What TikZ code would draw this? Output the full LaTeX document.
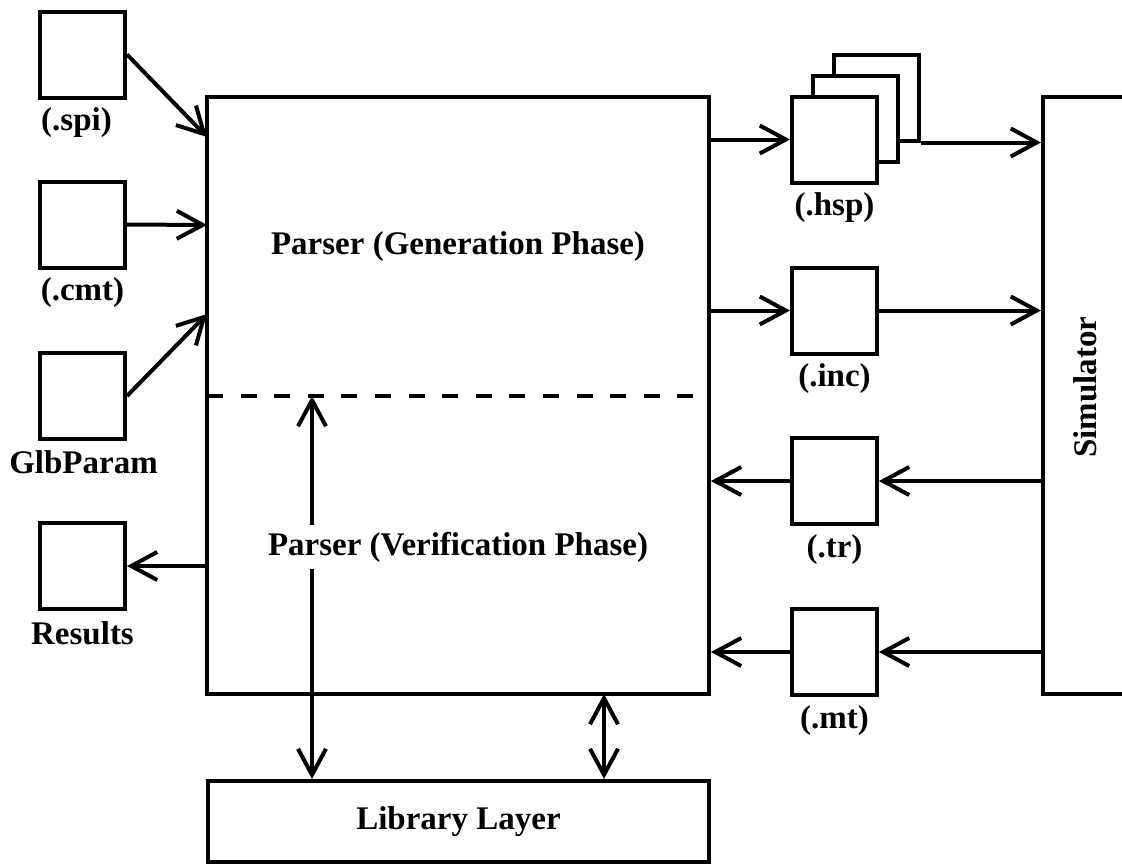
\documentclass[tikz,border=0pt]{standalone}
\usepackage{fontspec}
\setmainfont{Liberation Serif}
\usetikzlibrary{arrows.meta}
\begin{document}
\begin{tikzpicture}[x=1pt,y=-1pt,
  line width=4pt,
  every node/.style={font=\fontsize{33}{40}\selectfont\bfseries, inner sep=0pt},
  filebox/.style={draw, fill=white, minimum width=85pt, minimum height=86pt},
  block/.style={draw, minimum width=502pt},
  lbl/.style={anchor=base},
  conn/.style={-{Straight Barb[length=26pt,width=28pt]}},
  dconn/.style={{Straight Barb[length=26pt,width=28pt]}-{Straight Barb[length=26pt,width=28pt]}}]

\useasboundingbox (0,0) rectangle (1122,865);
\clip (0,0) rectangle (1122,865);

% central parser block and library layer
\node[block, minimum height=597pt] (parser) at (458,395.5) {};
\node[block, minimum width=501pt, minimum height=81pt] (lib) at (458.5,821.5) {Library Layer};

% simulator block (runs off the right edge)
\node[draw, minimum width=160pt, minimum height=597pt] (sim) at (1123,395.5) {};
\node[rotate=90] (simlbl) at (1085,387) {Simulator};

% input files on the left
\node[filebox] (spi) at (82.5,54.5) {};
\node[filebox] (cmt) at (82.5,224.5) {};
\node[filebox] (glb) at (82.5,396) {};
\node[filebox] (res) at (82.5,566) {};
\node[lbl] at ([shift={(-6,31)}]spi.south) {(.spi)};
\node[lbl] at ([shift={(0,31)}]cmt.south) {(.cmt)};
\node[lbl] at ([shift={(1,32)}]glb.south) {GlbParam};
\node[lbl] at ([shift={(0,33)}]res.south) {Results};

% generated and traced files on the right
\node[filebox] (hsp3) at (876.5,97.5) {};
\node[filebox] (hsp2) at (855.5,118.5) {};
\node[filebox] (hsp1) at (834.5,139.5) {};
\node[filebox] (inc) at (834.5,310.5) {};
\node[filebox] (tr) at (834.5,481) {};
\node[filebox] (mt) at (834.5,652) {};
\node[lbl] at ([shift={(0,31)}]hsp1.south) {(.hsp)};
\node[lbl] at ([shift={(0,31)}]inc.south) {(.inc)};
\node[lbl] at ([shift={(0,31)}]tr.south) {(.tr)};
\node[lbl] at ([shift={(0,31)}]mt.south) {(.mt)};

% entry points on the parser's left side
\coordinate (inspi) at (207,137);
\coordinate (incmt) at (207,225);
\coordinate (inglb) at (207,314);
\draw[conn] (spi.east) -- (inspi);
\draw[conn] (cmt.east) -- (incmt);
\draw[conn] (glb.east) -- (inglb);
\draw[conn] (parser.west |- res.east) -- (res.east);

% phase separator
\coordinate (sepL) at (207,396);
\coordinate (sepR) at (693,396);
\draw[dash pattern=on 16pt off 17.6pt] (sepL) -- (sepR);

% links to the library layer
\coordinate (libup) at (312,396);
\coordinate (libdn) at (604,694);
\draw[dconn] (libup) -- (libup |- lib.north);
\draw[dconn] (libdn) -- (libdn |- lib.north);

% phase titles
\node at (458,247) {Parser (Generation Phase)};
\node[fill=white, inner sep=7pt] at (458,547) {Parser (Verification Phase)};

% right-hand data flow
\draw[conn] (parser.east |- hsp1.west) -- (hsp1.west);
\draw[conn] (hsp3.south east) -- (sim.west |- hsp3.south east);
\draw[conn] (parser.east |- inc.west) -- (inc.west);
\draw[conn] (inc.east) -- (sim.west |- inc.east);
\draw[conn] (sim.west |- tr.east) -- (tr.east);
\draw[conn] (tr.west) -- (parser.east |- tr.west);
\draw[conn] (sim.west |- mt.east) -- (mt.east);
\draw[conn] (mt.west) -- (parser.east |- mt.west);
\end{tikzpicture}
\end{document}
